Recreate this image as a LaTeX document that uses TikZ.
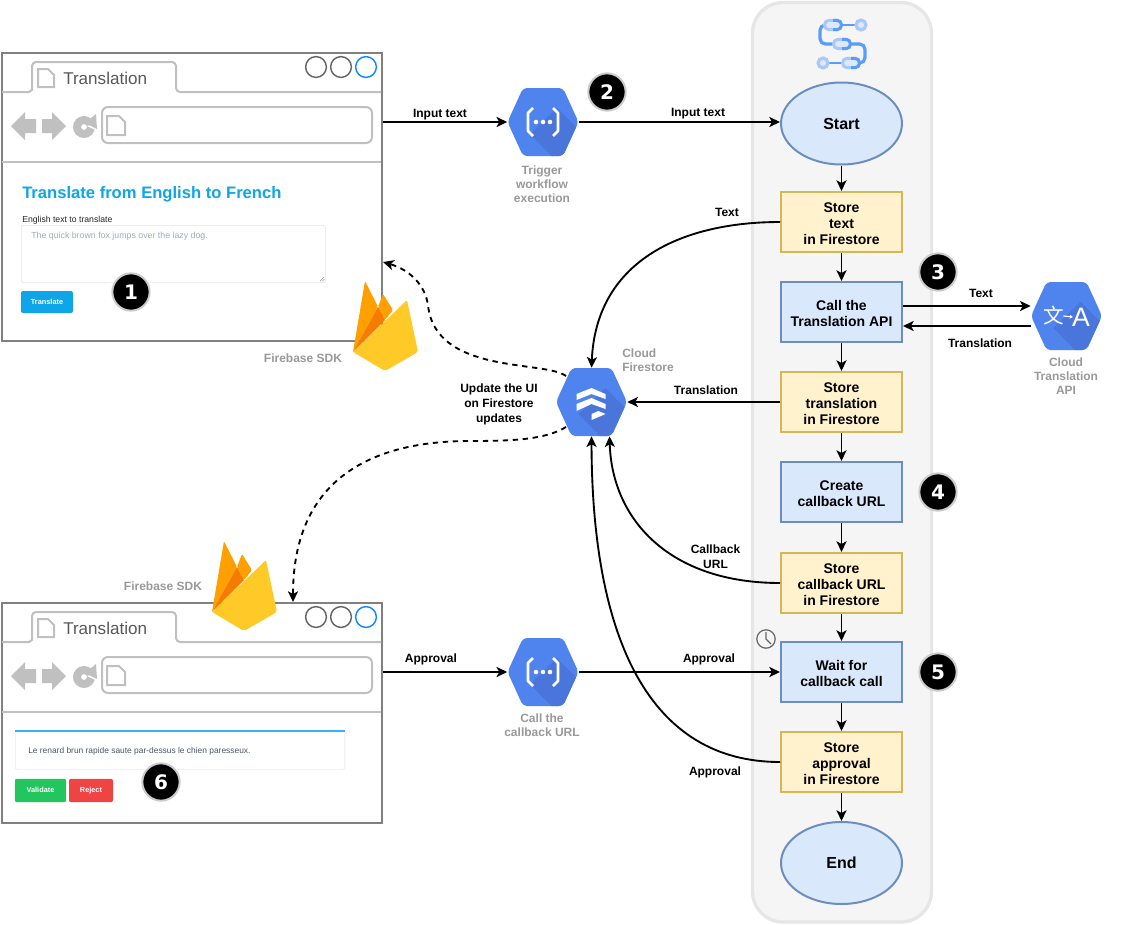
\documentclass[tikz,border=0pt]{standalone}
\usepackage{fontspec}
\setmainfont{Liberation Sans}
\newfontfamily\djv{DejaVu Sans}
\newfontfamily\cjkf{Noto Sans CJK SC}
\usetikzlibrary{arrows.meta,shapes.geometric}
\definecolor{panelfill}{HTML}{F5F5F5}
\definecolor{panelline}{HTML}{E6E6E6}
\definecolor{bluefill}{HTML}{DAE8FC}
\definecolor{blueline}{HTML}{6C8EBF}
\definecolor{yelfill}{HTML}{FFF2CC}
\definecolor{yelline}{HTML}{D6B656}
\definecolor{hexblue}{HTML}{4F83EE}
\definecolor{hexdark}{HTML}{4A76DC}
\definecolor{graytext}{HTML}{999999}
\definecolor{brframe}{HTML}{808080}
\definecolor{brinner}{HTML}{C0C0C0}
\definecolor{skyb}{HTML}{0EA5E9}
\definecolor{wflight}{HTML}{A8C7FA}
\definecolor{wfdark}{HTML}{5A9CFA}
\definecolor{wfpale}{HTML}{DCE8FD}
\definecolor{fbo}{HTML}{FFA000}
\definecolor{fbd}{HTML}{F57C00}
\definecolor{fby}{HTML}{FFCA28}
\definecolor{brblue}{HTML}{148CFF}
\definecolor{cardblue}{HTML}{38B2F8}
\definecolor{okgreen}{HTML}{22C55E}
\definecolor{nored}{HTML}{EF4444}
\definecolor{placeh}{HTML}{A0AEC0}
\definecolor{cardtext}{HTML}{4A5568}
\newcommand{\bt}[1]{\raisebox{-2.75pt}[\height][\depth]{\begin{tabular}{@{}c@{}}#1\end{tabular}}}
\tikzset{
  x=0.75pt,y=-0.75pt,
  conn/.style={draw=black,line width=1.4pt,-{Stealth[length=8pt,width=7.5pt,inset=2pt]}},
  dashconn/.style={conn,dash pattern=on 4pt off 3.5pt},
  flowbase/.style={line width=1.5pt,inner sep=0pt,align=center,text=black,minimum width=90.75pt,
     font=\fontsize{10.5}{12}\selectfont\bfseries},
  bluebox/.style={flowbase,draw=blueline,fill=bluefill,minimum height=45pt},
  yelbox/.style={flowbase,draw=yelline,fill=yelfill,minimum height=45pt},
  oval/.style={flowbase,ellipse,draw=blueline,fill=bluefill,minimum height=61.5pt,
     font=\fontsize{12}{14}\selectfont\bfseries},
  edgelabel/.style={inner sep=0pt,align=center,text=black,font=\fontsize{9}{11.2}\selectfont\bfseries},
  graylabel/.style={inner sep=0pt,align=center,text=graytext,font=\fontsize{9}{10.5}\selectfont\bfseries},
  badge/.style={circle,fill=black,draw=black!20,line width=1.5pt,minimum size=28pt,inner sep=0pt,text=white,
     font=\djv\fontsize{15}{15}\selectfont\bfseries},
  hexanchor/.style={rectangle,inner sep=0pt,minimum width=53.25pt,minimum height=51pt},
  brline/.style={draw=brinner,line width=1.5pt},
  brframest/.style={rectangle,draw=brframe,line width=1.5pt,inner sep=0pt,anchor=north west,fill=white},
  uibutton/.style={rectangle,rounded corners=1.5pt,inner sep=0pt,text=white,text height=4.2pt,text depth=1.2pt,
     font=\fontsize{5.5}{6}\selectfont\bfseries},
}
\newcommand{\hexpath}{(-35.5,0) -- (-20,-34) -- (20,-34) -- (35.5,0) -- (20,34) -- (-20,34) -- cycle}
\newcommand{\hexicon}[4]{%
  \node[hexanchor] (#1) at (#2,#3) {};
  \begin{scope}[shift={(#2,#3)}]
    \fill[hexblue,rounded corners=3pt] \hexpath;
    \begin{scope}
      \clip[rounded corners=3pt] \hexpath;
      \fill[hexdark] (-13,12) -- (14,-14) -- (50,22) -- (24,50) -- cycle;
    \end{scope}
    #4
  \end{scope}}
\newcommand{\funcglyph}{%
  \draw[white,line width=2pt,line join=round] (-10,-14) -- (-15,-9) -- (-15,9) -- (-10,14);
  \draw[white,line width=2pt,line join=round] (10,-14) -- (15,-9) -- (15,9) -- (10,14);
  \fill[white] (-7,0) circle[radius=1.7pt] (0,0) circle[radius=1.7pt] (7,0) circle[radius=1.7pt];}
\newcommand{\firebaseicon}[2]{%
  \begin{scope}[shift={(#1,#2)}]
    \fill[fbo,rounded corners=1pt] (0,0) -- (12,-71) -- (25,-45) -- cycle;
    \fill[fbo,rounded corners=1pt] (25,-45) -- (30,-58) -- (40,-42) -- (32,-32) -- cycle;
    \fill[fbd] (0,0) -- (25,-45) -- (32,-32) -- cycle;
    \fill[fby,rounded corners=1.5pt] (0,0) -- (54,-52) -- (65,0) -- (32,19) -- cycle;
  \end{scope}}
\newcommand{\pageglyph}[4]{% x y w h
  \draw[brinner,line width=1.5pt,line join=miter] (#1,#2) -- ++(#3-6,0) -- ++(6,6) -- ++(0,#4-6) -- ++(-#3,0) -- cycle;}
\newcommand{\wfpill}[2]{% centre x, y
  \draw[wflight,fill=wfpale,line width=2.2pt,rounded corners=3.4pt] (#1-8.5,#2-4.7) rectangle (#1+8.5,#2+4.7);
  \draw[wfdark,line width=2.2pt,rounded corners=3.4pt] (#1,#2-4.7) -- (#1+8.5,#2-4.7) -- (#1+8.5,#2+4.7) -- (#1,#2+4.7);}
\newcommand{\browser}[4]{% name, y offset, frame height (pt), content
  \node[brframest,minimum width=285pt,minimum height=#3] (#1) at (1,#2-1) {};
  \begin{scope}[shift={(0,#2-53)}]
    \draw[brline] (2,92) -- (29,92) -- (32,90) -- (32,68) [rounded corners=3pt] -- (32,62) -- (176,62) -- (176,92) [sharp corners] -- (381,92);
    \pageglyph{38}{69}{16}{18}
    \node[inner sep=0pt,anchor=west,text=black!65,font=\fontsize{12.8}{14}\selectfont] (#1title) at (63,78) {Translation};
    \draw[draw=black!60,line width=1.1pt] (316,67) circle[radius=7.8pt] (341,67) circle[radius=7.8pt];
    \draw[draw=brblue,line width=1.1pt] (366,67) circle[radius=7.8pt];
    \fill[brinner] (11,126) -- (25,112) -- (25,119) -- (36,119) -- (36,133) -- (25,133) -- (25,140) -- cycle;
    \fill[brinner] (66,126) -- (52,112) -- (52,119) -- (42,119) -- (42,133) -- (52,133) -- (52,140) -- cycle;
    \draw[brinner,line width=6pt] (84,127) circle[radius=5.2pt];
    \fill[white] (87,126) -- (100,122) -- (100,132) -- cycle;
    \fill[brinner] (96,114) -- (97,129) -- (85,123) -- cycle;
    \draw[brline,rounded corners=4.5pt] (102,107) rectangle (372,143);
    \pageglyph{107}{116}{18}{19}
    \draw[brline] (2,162) -- (381,162);
  \end{scope}
  #4}
\begin{document}
\begin{tikzpicture}
\useasboundingbox (0,0) rectangle (1122,925);
% panel
\draw[fill=panelfill,draw=panelline,line width=2.5pt,rounded corners=23pt] (752.5,2.5) rectangle (931.5,922);
% workflows icon
\draw[wfdark,line width=2.4pt,rounded corners=4pt] (826,25) -- (820,25) -- (820,44) -- (834,44);
\draw[wfdark,line width=2.4pt,rounded corners=4pt] (850,44) -- (865,44) -- (865,63) -- (858,63);
\draw[wfdark,line width=2.2pt] (842,25) -- (856,25) (828,63) -- (842,63);
\wfpill{833}{25}
\wfpill{842}{44}
\wfpill{851}{63}
\draw[wflight,line width=2.4pt,fill=wfpale] (861,25) circle[radius=3.7pt] (823,63) circle[radius=3.7pt];
% browser 1
\browser{b1}{53}{216pt}{
  \node[inner sep=0pt,anchor=west,text=skyb,font=\fontsize{12.45}{14}\selectfont\bfseries] (t1) at (22,194.5) {Translate from English to French};
  \node[inner sep=0pt,anchor=west,text=black!85,font=\fontsize{6.5}{8}\selectfont] (t2) at (22,220) {English text to translate};
  \node[draw=black!10,line width=0.5pt,rounded corners=1.5pt,inner sep=0pt,anchor=north west,minimum width=228pt,minimum height=43pt] (ta) at (21,225) {};
  \draw[black!40,line width=0.3pt] (320,281) -- (324,277) (322.5,281) -- (324.5,279);
  \node[inner sep=0pt,anchor=west,text=placeh,font=\fontsize{6.6}{8}\selectfont] (t3) at (31,236.5) {The quick brown fox jumps over the lazy dog.};
  \node[uibutton,fill=skyb,minimum width=39pt,minimum height=16.5pt] (btn) at (47,302) {Translate};
}
\firebaseicon{353}{352}
\node[graylabel,anchor=center] (sdk1) at (303,358.5) {Firebase SDK};
% browser 2
\browser{b2}{603}{165pt}{
  \node[draw=black!8,line width=0.5pt,rounded corners=1pt,inner sep=0pt,anchor=north west,minimum width=247pt,minimum height=28.5pt] (card) at (15,731) {};
  \draw[cardblue,line width=1.1pt] (card.north west) -- (card.north east);
  \node[inner sep=0pt,anchor=west,text=cardtext,font=\fontsize{6.3}{8}\selectfont] (t4) at (28,751) {Le renard brun rapide saute par-dessus le chien paresseux.};
  \node[uibutton,fill=okgreen,minimum width=38.5pt,minimum height=17.5pt] (val) at (40.5,790.5) {Validate};
  \node[uibutton,fill=nored,minimum width=33pt,minimum height=17.5pt] (rej) at (91,790.5) {Reject};
}
\firebaseicon{212}{612}
\node[graylabel] (sdk2) at (163,586.5) {Firebase SDK};
% hexagons
\hexicon{hexa}{543}{122}{\funcglyph}
\hexicon{hexb}{543}{672}{\funcglyph}
\hexicon{fs}{591.5}{402}{%
  \fill[white] (-15,-8) -- (0,-14) -- (14,-8) -- (14,-3) -- (0,-8) -- (-15,-2) -- cycle;
  \fill[white] (-15,2) -- (0,-4) -- (14,2) -- (14,7) -- (0,2) -- (-15,9) -- cycle;
  \fill[white] (0,12) -- (7,9) -- (14,12) -- (0,18) -- cycle;}
\hexicon{tr}{1066.5}{316}{%
  \node[inner sep=0pt,text=white,font=\cjkf\fontsize{15.5}{15.5}\selectfont] (wen) at (-13,0) {文};
  \node[inner sep=0pt,text=white,font=\fontsize{20}{21}\selectfont] (aa) at (14.5,1) {A};
  \draw[white,line width=0.9pt,-{Stealth[length=2.5pt,width=3pt]}] ([xshift=-0.5pt]wen.east) -- ([xshift=0.8pt]aa.west);}
\node[graylabel] (la) at (542,184.5) {Trigger\\workflow\\execution};
\node[graylabel] (lb) at (542,725.5) {Call the\\callback URL};
\node[graylabel,align=left] (lc) at (648,360) {Cloud\\Firestore};
\node[graylabel] (ld) at (1066,376) {Cloud\\Translation\\API};
% flow
\node[oval] (start) at (841.5,123.5) {Start};
\node[yelbox] (s1) at (841.5,222) {\bt{Store\\text\\in Firestore}};
\node[bluebox] (call) at (841.5,312) {\bt{Call the\\Translation API}};
\node[yelbox] (s2) at (841.5,402) {\bt{Store\\translation\\in Firestore}};
\node[bluebox] (cb) at (841.5,492) {\bt{Create\\callback URL}};
\node[yelbox] (s3) at (841.5,583) {\bt{Store\\callback URL\\in Firestore}};
\node[bluebox] (wait) at (841.5,672) {\bt{Wait for\\callback call}};
\node[yelbox] (s4) at (841.5,762) {\bt{Store\\approval\\in Firestore}};
\node[oval] (endn) at (841.5,863) {End};
\foreach \a/\b in {start/s1,s1/call,call/s2,s2/cb,cb/s3,s3/wait,wait/s4,s4/endn}
  \draw[conn] (\a) -- (\b);
% clock
\node[circle,draw=black!60,line width=0.9pt,minimum size=13.8pt,inner sep=0pt] (clock) at (766,639) {};
\draw[black!60,line width=0.8pt] (766,632) -- (clock.center) -- (771,644);
% straight connectors
\draw[conn] (hexa.west -| b1.east) -- (hexa.west);
\draw[conn] (hexa.east) -- (hexa.east -| start.west);
\draw[conn] (hexb.west -| b2.east) -- (hexb.west);
\draw[conn] (hexb.east) -- (wait.west);
\draw[conn] (s2.west) -- (fs.east);
\draw[conn] ([yshift=4.5pt]call.east) -- ([yshift=7.5pt]tr.west);
\draw[conn] ([yshift=-7.5pt]tr.west) -- ([yshift=-10.5pt]call.east);
% curved connectors
\draw[conn] (s1.west) .. controls (680,222) and (596,262) .. (fs.north);
\draw[conn] (s3.west) .. controls (670,583) and (612,520) .. ([xshift=13.5pt]fs.south);
\draw[conn] (s4.west) .. controls (650,762) and (592,640) .. (fs.south);
\coordinate (d1) at (566,376);
\coordinate (d2) at (566,427);
\coordinate (d1end) at (383,262);
\coordinate (d2end) at (293,602);
\coordinate (dmid) at (428,305);
\coordinate (dmidb) at (470,441);
\draw[dashconn] (d1) .. controls (545,360) and (435,375) .. (dmid) .. controls (425,285) and (410,270) .. (d1end);
\draw[dashconn] (d2) .. controls (545,440) and (510,441) .. (dmidb) .. controls (370,441) and (293,480) .. (d2end);
% edge labels
\node[edgelabel] (e1) at (440,114.5) {Input text};
\node[edgelabel] (e2) at (698,113.5) {Input text};
\node[edgelabel] (e3) at (727,212) {Text};
\node[edgelabel] (e4) at (981,293) {Text};
\node[edgelabel] (e5) at (980,343) {Translation};
\node[edgelabel] (e6) at (706,390) {Translation};
\node[edgelabel] (e7) at (715.5,557) {Callback\\URL};
\node[edgelabel] (e8) at (715,772) {Approval};
\node[edgelabel] (e9) at (431,659) {Approval};
\node[edgelabel] (e10) at (709,659) {Approval};
\node[edgelabel] (e11) at (499,404) {Update the UI\\on Firestore\\updates};
% badges
\node[badge] (n1) at (131,292) {1};
\node[badge] (n2) at (607,92) {2};
\node[badge] (n3) at (938,272) {3};
\node[badge] (n4) at (938,492) {4};
\node[badge] (n5) at (938,672) {5};
\node[badge] (n6) at (161,782) {6};
\end{tikzpicture}
\end{document}
